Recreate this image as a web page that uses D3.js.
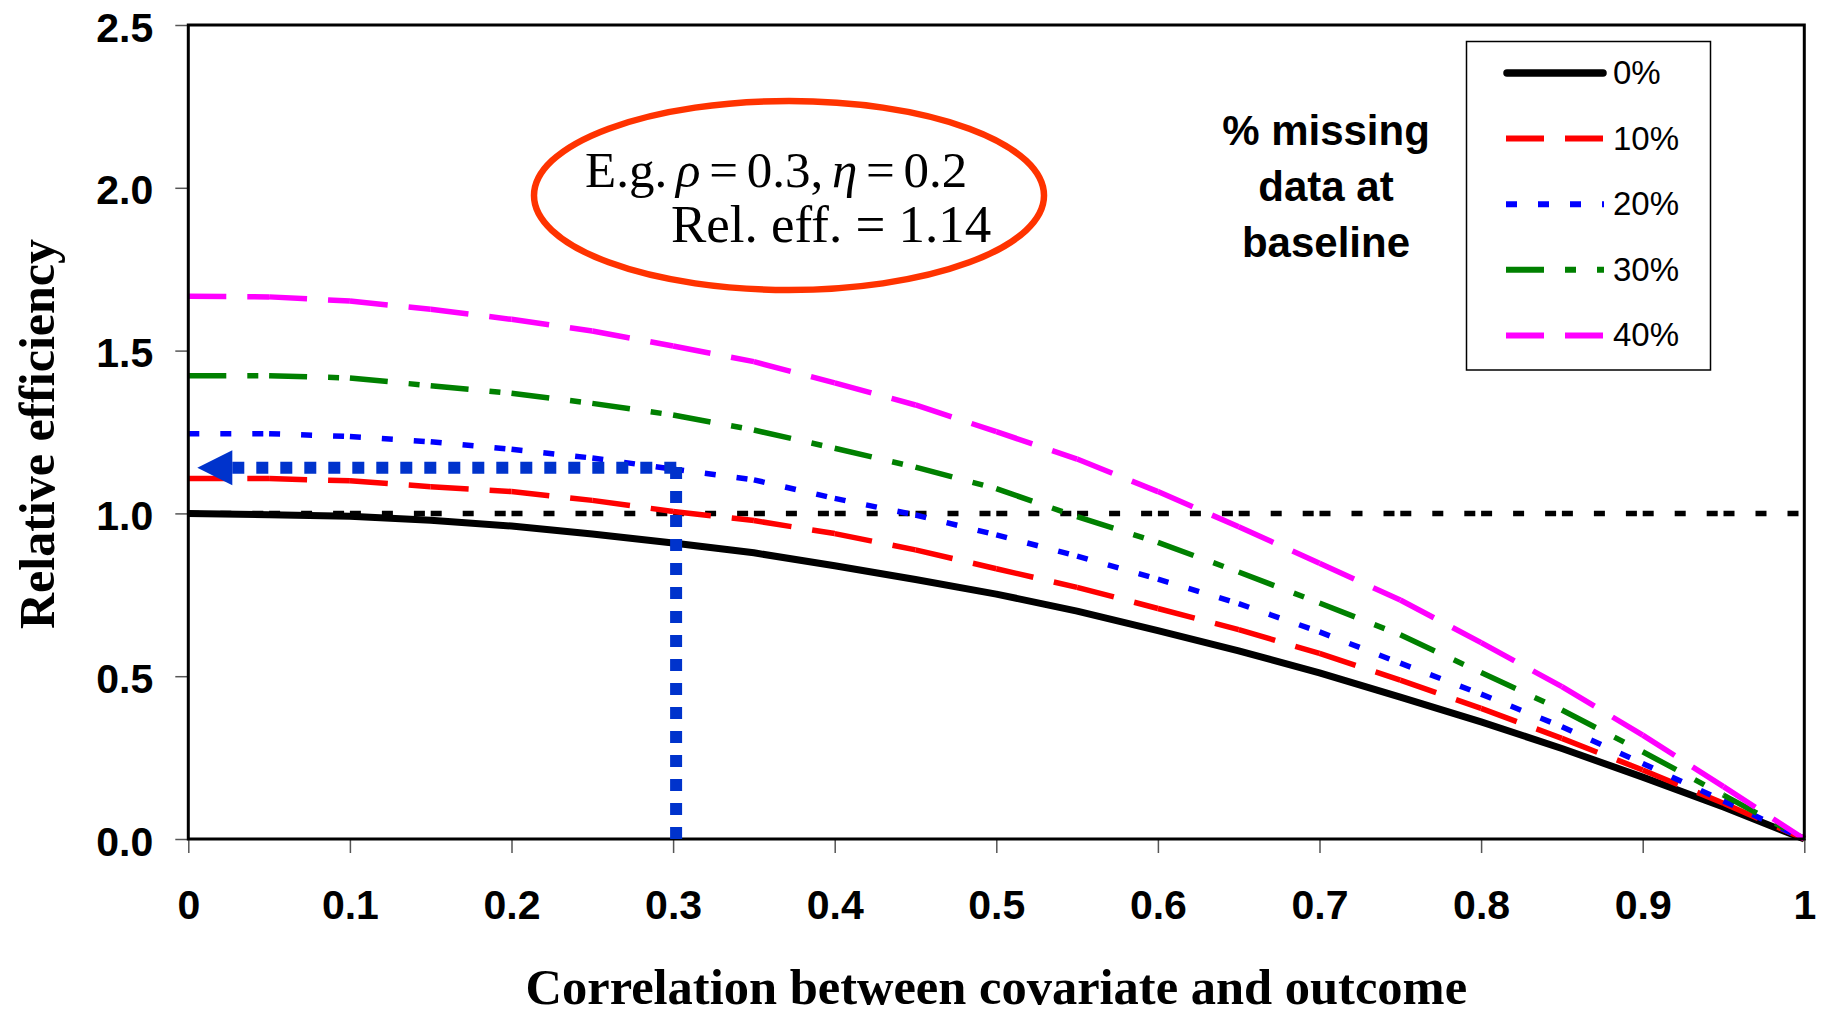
<!DOCTYPE html>
<html>
<head>
<meta charset="utf-8">
<script src="https://cdn.jsdelivr.net/npm/d3@7"></script>
<style>
  html, body { margin: 0; padding: 0; background: #fff; }
  svg { display: block; }
</style>
</head>
<body>
<svg id="chart" width="1823" height="1016"></svg>
<script>
// MARK: Values.

const correlation = [0, 0.05, 0.1, 0.15, 0.2, 0.25, 0.3, 0.35, 0.4, 0.45, 0.5,
                     0.55, 0.6, 0.65, 0.7, 0.75, 0.8, 0.85, 0.9, 0.95, 1]

const missing0  = [1.000, 0.996, 0.991, 0.979, 0.961, 0.937, 0.909, 0.879, 0.839, 0.797, 0.752,
                   0.700, 0.640, 0.578, 0.510, 0.436, 0.360, 0.278, 0.190, 0.098, 0]
const missing10 = [1.107, 1.107, 1.100, 1.082, 1.067, 1.040, 1.006, 0.978, 0.938, 0.888, 0.830,
                   0.773, 0.708, 0.643, 0.570, 0.488, 0.401, 0.309, 0.212, 0.110, 0]
const missing20 = [1.245, 1.245, 1.236, 1.220, 1.197, 1.170, 1.136, 1.103, 1.046, 0.995, 0.934,
                   0.869, 0.798, 0.723, 0.636, 0.540, 0.445, 0.345, 0.232, 0.117, 0]
const missing30 = [1.423, 1.423, 1.416, 1.392, 1.369, 1.338, 1.302, 1.256, 1.200, 1.142, 1.076,
                   0.990, 0.911, 0.820, 0.725, 0.627, 0.511, 0.396, 0.268, 0.135, 0]
const missing40 = [1.667, 1.665, 1.652, 1.627, 1.596, 1.560, 1.514, 1.466, 1.401, 1.333, 1.251,
                   1.167, 1.067, 0.959, 0.847, 0.734, 0.603, 0.468, 0.319, 0.161, 0]

const referenceLine = [1, 1, 1, 1, 1, 1, 1, 1, 1, 1, 1, 1, 1, 1, 1, 1, 1, 1, 1, 1, 1]

const seriesLabels = ['0%', '10%', '20%', '30%', '40%']
const legendTitle  = ['% missing', 'data at', 'baseline']

const xTicks      = [0, 0.1, 0.2, 0.3, 0.4, 0.5, 0.6, 0.7, 0.8, 0.9, 1]
const xTickLabels = ['0', '0.1', '0.2', '0.3', '0.4', '0.5', '0.6', '0.7', '0.8', '0.9', '1']
const yTicks      = [0, 0.5, 1, 1.5, 2, 2.5]

// The worked example pointed at by the blue arrow.
const exampleRho        = 0.3
const exampleEfficiency = 1.14

// MARK: Layout and styles.

const PLOT = { left: 188.3, right: 1804.3, top: 25, bottom: 839 }

const SERIES_STYLES = [
  { color: '#000000', width: 7,   dash: null },
  { color: '#ff0000', width: 5.5, dash: '38,21' },
  { color: '#0000ff', width: 5.5, dash: '11,21' },
  { color: '#008000', width: 5.5, dash: '38,21,11,21' },
  { color: '#ff00ff', width: 5.5, dash: '38,21' },
]

const SANS  = "'Liberation Sans', Arial, sans-serif"
const SERIF = "'Liberation Serif', 'Times New Roman', serif"
const ARROW_BLUE = '#0033cc'

const svg = d3.select('#chart')

const x = d3.scaleLinear().domain([0, 1]).range([PLOT.left, PLOT.right])
const y = d3.scaleLinear().domain([0, 2.5]).range([PLOT.bottom, PLOT.top])

const series = [missing0, missing10, missing20, missing30, missing40]
  .map((values, i) => ({ label: seriesLabels[i], values, style: SERIES_STYLES[i] }))

// Excel restarts the dash pattern at every data point, so dashed lines are drawn
// segment by segment.
function segments(values) {
  return d3.pairs(correlation.map((c, i) => [c, values[i]]))
}

function drawDashed(group, values, style) {
  group.selectAll(null)
    .data(segments(values)).enter()
    .append('line')
    .attr('x1'              , (d) => x(d[0][0]))
    .attr('y1'              , (d) => y(d[0][1]))
    .attr('x2'              , (d) => x(d[1][0]))
    .attr('y2'              , (d) => y(d[1][1]))
    .attr('stroke'          , style.color)
    .attr('stroke-width'    , style.width)
    .attr('stroke-dasharray', style.dash)
    .attr('stroke-linecap'  , 'butt')
}

// MARK: Axes.

const axisGroup = svg.append('g')

axisGroup.append('g')
  .attr('transform', `translate(${PLOT.left},0)`)
  .call(d3.axisLeft(y).tickValues(yTicks).tickSize(13).tickFormat(d3.format('.1f')))
  .call((g) => g.select('.domain').remove())
  .call((g) => g.selectAll('line').attr('stroke', '#555').attr('stroke-width', 1.5))
  .call((g) => g.selectAll('text')
    .attr('x', -35)
    .attr('dy', 16)
    .attr('font-family', SANS)
    .attr('font-weight', 'bold')
    .attr('font-size', 41)
    .attr('fill', '#000'))

axisGroup.append('g')
  .attr('transform', `translate(0,${PLOT.bottom})`)
  .call(d3.axisBottom(x).tickValues(xTicks).tickSize(14).tickFormat((d, i) => xTickLabels[i]))
  .call((g) => g.select('.domain').remove())
  .call((g) => g.selectAll('line').attr('stroke', '#555').attr('stroke-width', 1.5))
  .call((g) => g.selectAll('text')
    .attr('y', 80)
    .attr('dy', 0)
    .attr('font-family', SANS)
    .attr('font-weight', 'bold')
    .attr('font-size', 41)
    .attr('fill', '#000'))

// MARK: Reference line and series.

drawDashed(svg.append('g').attr('class', 'reference'), referenceLine,
  { color: '#000', width: 5.5, dash: '11,21' })

const seriesGroup = svg.append('g').attr('class', 'series')
series.forEach((s) => {
  if (s.style.dash === null) {
    seriesGroup.append('path')
      .datum(s.values)
      .attr('d', d3.line().x((d, i) => x(correlation[i])).y((d) => y(d)))
      .attr('fill'           , 'none')
      .attr('stroke'         , s.style.color)
      .attr('stroke-width'   , s.style.width)
      .attr('stroke-linejoin', 'round')
  } else {
    drawDashed(seriesGroup.append('g'), s.values, s.style)
  }
})

// Plot frame.
svg.append('rect')
  .attr('x'           , PLOT.left)
  .attr('y'           , PLOT.top)
  .attr('width'       , PLOT.right - PLOT.left)
  .attr('height'      , PLOT.bottom - PLOT.top)
  .attr('fill'        , 'none')
  .attr('stroke'      , '#000')
  .attr('stroke-width', 3)

// MARK: Worked example arrow.

const arrowY    = y(exampleEfficiency)
const cornerX   = x(exampleRho) + 3
const headTip   = x(0) + 9
const headBase  = headTip + 35
const arrowGroup = svg.append('g').attr('class', 'arrow')

arrowGroup.append('line')
  .attr('x1', cornerX).attr('y1', y(0))
  .attr('x2', cornerX).attr('y2', arrowY - 6)
  .attr('stroke', ARROW_BLUE).attr('stroke-width', 12)
  .attr('stroke-dasharray', '12,12')

arrowGroup.append('line')
  .attr('x1', headBase).attr('y1', arrowY)
  .attr('x2', cornerX + 6).attr('y2', arrowY)
  .attr('stroke', ARROW_BLUE).attr('stroke-width', 12)
  .attr('stroke-dasharray', '12,12')

arrowGroup.append('path')
  .attr('d', d3.line()([[headTip, arrowY], [headBase, arrowY - 17.5], [headBase, arrowY + 17.5]]) + 'Z')
  .attr('fill', ARROW_BLUE)

// MARK: Callout.

const callout = svg.append('g').attr('class', 'callout')
callout.append('ellipse')
  .attr('cx', 789).attr('cy', 195.5)
  .attr('rx', 255).attr('ry', 94.5)
  .attr('fill', 'none')
  .attr('stroke', '#ff3300')
  .attr('stroke-width', 6.5)

const line1 = callout.append('text')
  .attr('x', 585).attr('y', 187)
  .attr('font-family', SERIF).attr('font-size', 51)
  .attr('word-spacing', -4)
line1.append('tspan').text('E.g. ')
line1.append('tspan').attr('font-style', 'italic').text('ρ')
line1.append('tspan').text(` = ${exampleRho}, `)
line1.append('tspan').attr('font-style', 'italic').text('η')
line1.append('tspan').text(' = 0.2')

callout.append('text')
  .attr('x', 671).attr('y', 242)
  .attr('font-family', SERIF).attr('font-size', 53)
  .text(`Rel. eff. = ${exampleEfficiency}`)

// MARK: Legend.

const legend = svg.append('g').attr('class', 'legend')
legend.append('rect')
  .attr('x', 1466.5).attr('y', 41.5)
  .attr('width', 244).attr('height', 328.5)
  .attr('fill', '#fff')
  .attr('stroke', '#000')
  .attr('stroke-width', 1.5)

const rows = legend.selectAll('g.row')
  .data(series).enter()
  .append('g')
  .attr('class', 'row')
  .attr('transform', (d, i) => `translate(0,${73 + i * 65.6})`)

rows.append('line')
  .attr('x1', (d) => d.style.dash === null ? 1507 : 1506)
  .attr('x2', (d) => d.style.dash === null ? 1603 : 1604)
  .attr('stroke', (d) => d.style.color)
  .attr('stroke-width', (d) => d.style.width + 0.5)
  .attr('stroke-dasharray', (d) => d.style.dash)
  .attr('stroke-linecap', (d) => d.style.dash === null ? 'round' : 'butt')

rows.append('text')
  .attr('x', 1613).attr('y', 11)
  .attr('font-family', SANS).attr('font-size', 33)
  .text((d) => d.label)

svg.append('text')
  .attr('text-anchor', 'middle')
  .attr('font-family', SANS).attr('font-weight', 'bold').attr('font-size', 42)
  .selectAll('tspan')
  .data(legendTitle).enter()
  .append('tspan')
  .attr('x', 1326)
  .attr('y', (d, i) => 145 + i * 56)
  .text((d) => d)

// MARK: Axis titles.

svg.append('text')
  .attr('x', (PLOT.left + PLOT.right) / 2).attr('y', 1004)
  .attr('text-anchor', 'middle')
  .attr('font-family', SERIF).attr('font-weight', 'bold').attr('font-size', 50.5)
  .text('Correlation between covariate and outcome')

svg.append('text')
  .attr('transform', 'translate(54,434) rotate(-90)')
  .attr('text-anchor', 'middle')
  .attr('font-family', SERIF).attr('font-weight', 'bold').attr('font-size', 50)
  .text('Relative efficiency')
</script>
</body>
</html>
